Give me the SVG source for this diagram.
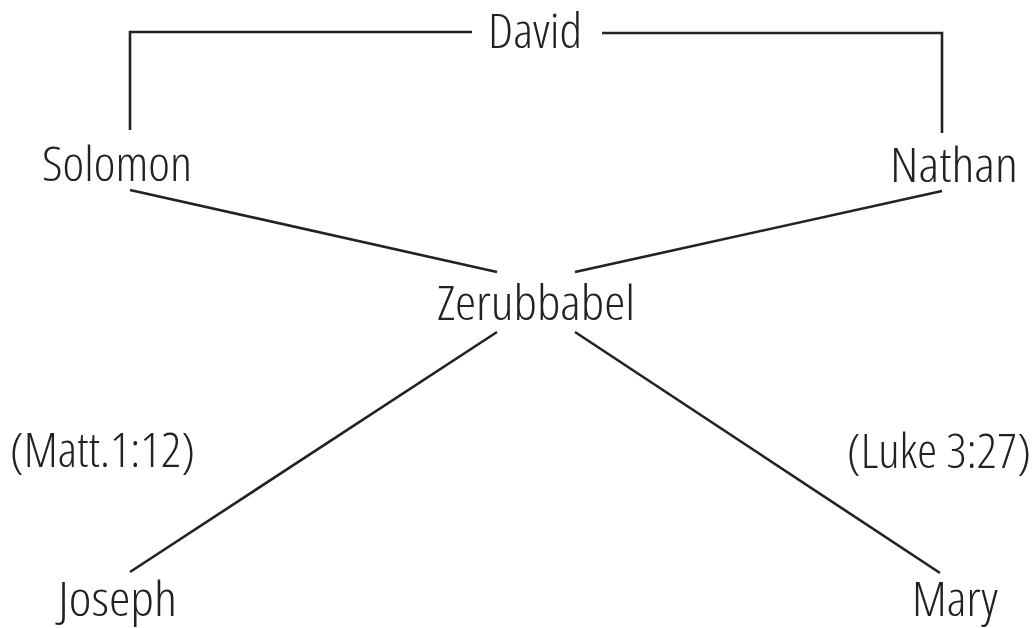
<svg xmlns="http://www.w3.org/2000/svg" width="1035" height="628" viewBox="0 0 1035 628">
  <style>
    .lbl { font-family: "Open Sans", "Noto Sans", "DejaVu Sans", sans-serif; font-weight: 300; font-stretch: 75%; font-size: 47px; fill: #222; }
    .con { fill: none; stroke: #222; stroke-width: 2.6; stroke-linecap: butt; stroke-linejoin: miter; }
  </style>
  <rect width="1035" height="628" fill="#fff"/>

  <!-- connectors -->
  <g id="connectors">
    <polyline class="con" points="472,32 130,32 130,130"/>
    <polyline class="con" points="602,33 942,33 942,133"/>
    <line class="con" x1="130" y1="190" x2="497" y2="272"/>
    <line class="con" x1="942" y1="191" x2="575" y2="272"/>
    <line class="con" x1="497" y1="332" x2="130" y2="572"/>
    <line class="con" x1="575" y1="332" x2="940" y2="573"/>
  </g>

  <!-- nodes -->
  <g id="david"><text class="lbl" x="488" y="48" textLength="94" lengthAdjust="spacingAndGlyphs">David</text></g>
  <g id="solomon"><text class="lbl" x="42" y="181" textLength="150" lengthAdjust="spacingAndGlyphs">Solomon</text></g>
  <g id="nathan"><text class="lbl" x="890" y="182" textLength="128" lengthAdjust="spacingAndGlyphs">Nathan</text></g>
  <g id="zerubbabel"><text class="lbl" x="437" y="320" textLength="198" lengthAdjust="spacingAndGlyphs">Zerubbabel</text></g>
  <g id="matt-ref"><text class="lbl" x="10" y="467" textLength="185" lengthAdjust="spacingAndGlyphs">(Matt.1:12)</text></g>
  <g id="luke-ref"><text class="lbl" x="847" y="468" textLength="184" lengthAdjust="spacingAndGlyphs">(Luke 3:27)</text></g>
  <g id="joseph"><text class="lbl" x="58" y="616" textLength="119" lengthAdjust="spacingAndGlyphs">Joseph</text></g>
  <g id="mary"><text class="lbl" x="912" y="616" textLength="86" lengthAdjust="spacingAndGlyphs">Mary</text></g>
</svg>
